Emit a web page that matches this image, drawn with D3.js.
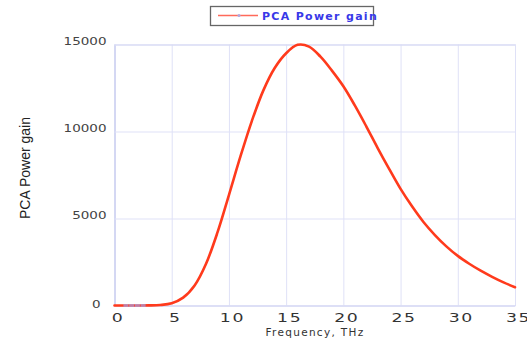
<!DOCTYPE html>
<html><head><meta charset="utf-8">
<script src="https://cdn.jsdelivr.net/npm/d3@7"></script>
<style>
html,body{margin:0;padding:0;background:#fff;}
svg{display:block;}
</style></head>
<body>
<script>
// ---- data ----
const frequency = [0,1,2,3,4,5,6,7,8,9,10,11,12,13,14,15,16,17,18,19,20,21,22,23,24,25,26,27,28,29,30,31,32,33,34,35];
const powerGain = [0,0,0,5,30,130,450,1150,2400,4200,6350,8550,10600,12350,13650,14500,14980,14880,14300,13500,12600,11500,10300,9050,7850,6700,5700,4800,4050,3400,2850,2400,2000,1650,1330,1050];
const markerFreq = [1,1.5,2,2.5];
const markerGain = [0,0,0,0];
const xTicks = [0,5,10,15,20,25,30,35];
const yTicks = [0,5000,10000,15000];
const seriesName = "PCA Power gain";
const xTitle = "Frequency, THz";
const yTitle = "PCA Power gain";

const W = 527, H = 342;
const svg = d3.select("body").append("svg").attr("width", W).attr("height", H);

const x = d3.scaleLinear().domain([0,35]).range([114.5,515]);
const y = d3.scaleLinear().domain([0,15000]).range([305.5,44.5]);

// grid
const gx = svg.append("g").attr("transform",`translate(0,${y(0)})`)
  .call(d3.axisBottom(x).tickValues(xTicks).tickSize(-(y(0)-y(15000))).tickFormat(""));
gx.select(".domain").attr("stroke","#d8dbf4");
gx.selectAll(".tick line").attr("stroke","#dfe1f7").attr("stroke-width",1);

const gy = svg.append("g").attr("transform",`translate(${x(0)},0)`)
  .call(d3.axisLeft(y).tickValues(yTicks).tickSize(-(x(35)-x(0))).tickFormat(""));
gy.select(".domain").attr("stroke","#c9cdf0").attr("stroke-width",1.2);
gy.selectAll(".tick line").attr("stroke","#dfe1f7").attr("stroke-width",1);

// x tick labels
const xl = svg.append("g").attr("transform",`translate(0,${y(0)})`)
  .call(d3.axisBottom(x).tickValues(xTicks).tickSize(0).tickPadding(0).tickFormat(d3.format("d")));
xl.select(".domain").remove();
xl.selectAll(".tick text")
  .attr("font-family","DejaVu Sans").attr("font-size",13).attr("fill","#333")
  .attr("y",0).attr("dy",0)
  .attr("letter-spacing",1.2)
  .attr("transform","translate(3,16) scale(1.33,1)");

// y tick labels
const yl = svg.append("g").attr("transform",`translate(${x(0)},0)`)
  .call(d3.axisLeft(y).tickValues(yTicks).tickSize(0).tickPadding(0).tickFormat(d3.format("d")));
yl.select(".domain").remove();
yl.selectAll(".tick text")
  .attr("font-family","DejaVu Sans").attr("font-size",10).attr("fill","#444")
  .attr("x",0).attr("dy",0).attr("y",0).attr("text-anchor","end")
  .attr("transform",d => `translate(${d===0?-14:-8},${d===0?2:0}) scale(1.35,1)`);

// axis titles
svg.append("text").attr("x",315).attr("y",336).attr("text-anchor","middle")
  .attr("font-family","DejaVu Sans").attr("font-size",10.5).attr("fill","#333")
  .attr("letter-spacing",1.3).text(xTitle);
svg.append("text").attr("transform","translate(30,168) rotate(-90)").attr("text-anchor","middle")
  .attr("font-family","Liberation Sans").attr("font-size",14).attr("fill","#222")
  .text(yTitle);

// curve
const line = d3.line().x((d,i)=>x(frequency[i])).y((d,i)=>y(powerGain[i])).curve(d3.curveCatmullRom.alpha(0.5));
svg.append("path").datum(powerGain).attr("d",line)
  .attr("fill","none").attr("stroke","#ff3a1c").attr("stroke-width",2.6)
  .attr("stroke-linejoin","round").attr("stroke-linecap","round");

// faint markers
svg.append("g").selectAll("rect").data(markerFreq).join("rect")
  .attr("x",(d)=>x(d)-2.5).attr("y",(d,i)=>y(markerGain[i])-1.5)
  .attr("width",5).attr("height",3).attr("fill","#a99ad8").attr("opacity",0.7);

// legend
const lg = svg.append("g");
lg.append("rect").attr("x",210.5).attr("y",6.5).attr("width",163).attr("height",19)
  .attr("fill","#fff").attr("stroke","#666").attr("stroke-width",1.3);
lg.append("line").attr("x1",218).attr("x2",258).attr("y1",15.5).attr("y2",15.5)
  .attr("stroke","#ff6a5a").attr("stroke-width",1.6);
lg.append("circle").attr("cx",239).attr("cy",15.5).attr("r",1.5).attr("fill","#b0a8e0");
lg.append("text").attr("x",262).attr("y",20).attr("font-family","DejaVu Sans")
  .attr("font-weight","bold").attr("font-size",11).attr("fill","#3838e8")
  .attr("letter-spacing",1.3).text(seriesName);
</script>
</body></html>
